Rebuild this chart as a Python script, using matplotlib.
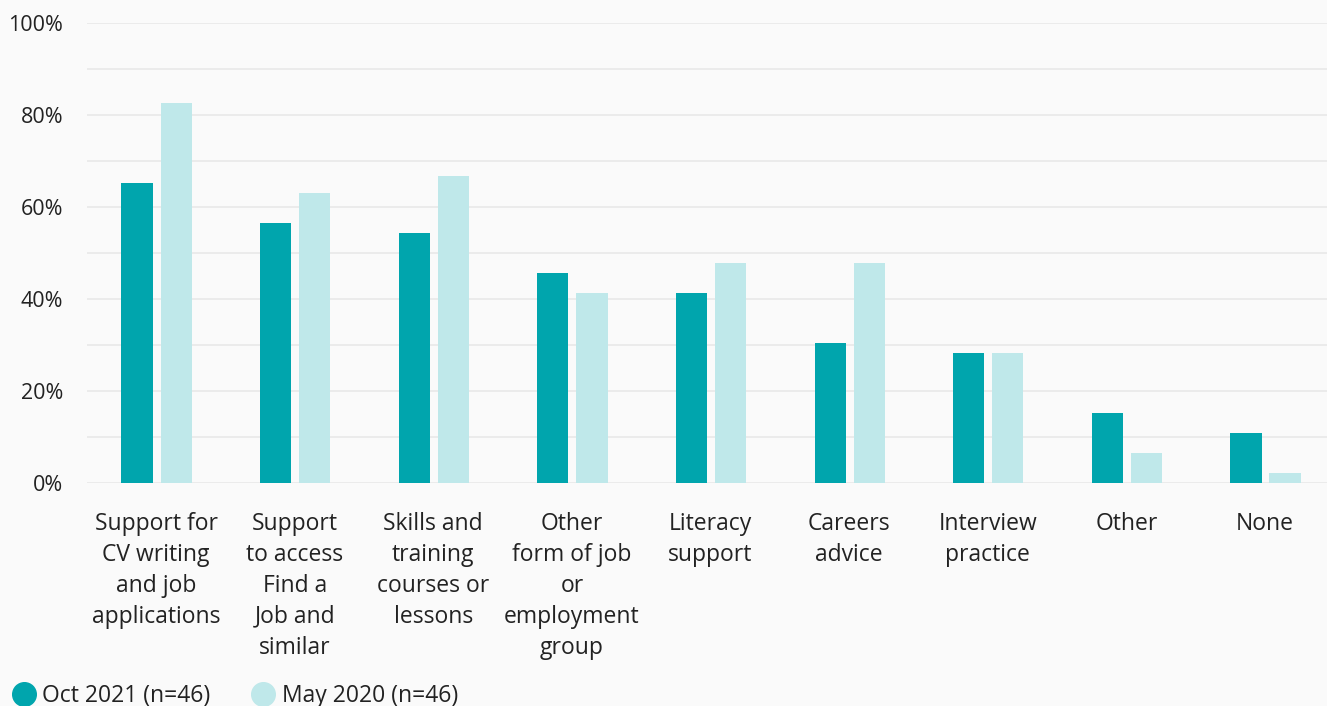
import matplotlib.pyplot as plt
from matplotlib.lines import Line2D
import numpy as np

categories = [
    "Support for\nCV writing\nand job\napplications",
    "Support\nto access\nFind a\nJob and\nsimilar",
    "Skills and\ntraining\ncourses or\nlessons",
    "Other\nform of job\nor\nemployment\ngroup",
    "Literacy\nsupport",
    "Careers\nadvice",
    "Interview\npractice",
    "Other",
    "None",
]
oct_2021 = [65.2, 56.5, 54.3, 45.7, 41.3, 30.4, 28.3, 15.2, 10.9]
may_2020 = [82.6, 63.0, 66.7, 41.3, 47.8, 47.8, 28.3, 6.5, 2.2]
series_names = ["Oct 2021 (n=46)", "May 2020 (n=46)"]

dark = "#00a5ad"
light = "#bfe8ea"
bg = "#fafafa"
txt = "#222222"

plt.rcParams['font.family'] = ['Open Sans', 'DejaVu Sans']

fig = plt.figure(figsize=(13.27, 7.06), dpi=100)
fig.set_facecolor(bg)
ax = fig.add_axes([86.7 / 1327, (706 - 483) / 706, 1247.6 / 1327, 460 / 706])
ax.set_facecolor(bg)

x = np.arange(len(categories))
w = 0.225
ax.bar(x - 0.137, oct_2021, width=w, color=dark, zorder=3)
ax.bar(x + 0.145, may_2020, width=w, color=light, zorder=3)

ax.set_xlim(-0.5, len(categories) - 0.5)
ax.set_ylim(0, 100)
ax.set_yticks(np.arange(0, 101, 10), minor=False)
ax.set_yticklabels([f"{v}%" if v % 20 == 0 else "" for v in range(0, 101, 10)])
ax.grid(axis="y", color="#e8e8e8", linewidth=1.2, zorder=0)
ax.tick_params(axis="y", length=0, pad=17, labelsize=15.5, labelcolor=txt)
ax.set_xticks(x)
ax.set_xticklabels(categories, fontsize=16.5, color=txt, linespacing=1.38)
ax.tick_params(axis="x", length=0, pad=21)
for s in ax.spines.values():
    s.set_visible(False)

handles = [
    Line2D([], [], marker="o", linestyle="", markersize=17, color=dark),
    Line2D([], [], marker="o", linestyle="", markersize=17, color=light),
]
fig.legend(handles, series_names, loc="lower left", bbox_to_anchor=(-0.007, -0.032),
           ncol=2, frameon=False, fontsize=16.5, handletextpad=0.25,
           columnspacing=1.75, labelcolor=txt, handlelength=1.1)

fig.savefig("out.png", dpi=100, facecolor=bg)
